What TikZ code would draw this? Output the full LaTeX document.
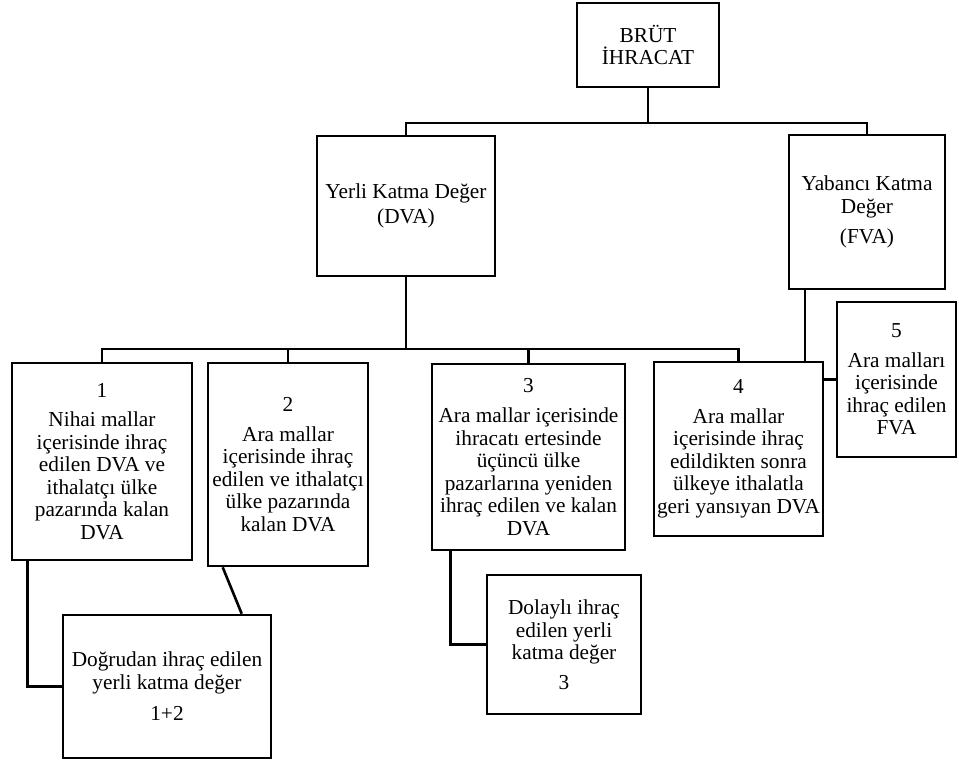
\documentclass[tikz,border=0pt]{standalone}
\usepackage{fontspec}
\setmainfont{Liberation Serif}
\usetikzlibrary{calc}
\begin{document}
\begin{tikzpicture}[x=1pt,y=-1pt,
  box/.style={draw=black, line width=2.6pt, inner sep=0pt, align=center,
    font=\fontsize{21.3}{22.5}\selectfont, fill=white},
  link/.style={draw=black, line width=2.6pt, line join=miter}]
\useasboundingbox (0,0) rectangle (959,764);
% boxes
\node[box, minimum width=142pt, minimum height=84pt] (brut) at (648,45) {BRÜT\\İHRACAT};
\node[box, minimum width=178pt, minimum height=140pt] (dva) at (406,206) {Yerli Katma Değer\\[2pt](DVA)};
\node[box, minimum width=156pt, minimum height=154pt] (fva) at (867,212) {Yabancı Katma\\Değer\\[8pt](FVA)};
\node[box, minimum width=180pt, minimum height=197pt] (b1) at (102,461.5) {1\\[7pt]Nihai mallar\\içerisinde ihraç\\edilen DVA ve\\ithalatçı ülke\\pazarında kalan\\DVA};
\node[box, minimum width=160pt, minimum height=203pt] (b2) at (288,464.5) {2\\[7pt]Ara mallar\\içerisinde ihraç\\edilen ve ithalatçı\\ülke pazarında\\kalan DVA};
\node[box, minimum width=193pt, minimum height=186pt] (b3) at (528.5,457) {3\\[8pt]Ara mallar içerisinde\\ihracatı ertesinde\\üçüncü ülke\\pazarlarına yeniden\\ihraç edilen ve kalan\\DVA};
\node[box, minimum width=169pt, minimum height=174pt] (b4) at (738.5,449) {4\\[7pt]Ara mallar\\içerisinde ihraç\\edildikten sonra\\ülkeye ithalatla\\geri yansıyan DVA};
\node[box, minimum width=119pt, minimum height=155pt] (b5) at (896.5,379.5) {5\\[7pt]Ara malları\\içerisinde\\ihraç edilen\\FVA};
\node[box, minimum width=208pt, minimum height=143pt] (b12) at (167,686.5) {Doğrudan ihraç edilen\\yerli katma değer\\[9pt]1+2};
\node[box, minimum width=154pt, minimum height=139pt] (b3d) at (564,644.5) {Dolaylı ihraç\\edilen yerli\\katma değer\\[7pt]3};
% junction coordinates
\coordinate (jtop) at (648,123);
\coordinate (jmid) at (406,349);
\coordinate (fvax) at (805,0);
% top level
\draw[link] (brut.south) -- (jtop);
\draw[link] (dva.north) |- (jtop) -| (fva.north);
% DVA branches
\draw[link] (dva.south) -- (jmid);
\draw[link] (b1.north) |- (jmid) -| (b4.north);
\draw[link] (b2.north) -- (b2.north |- jmid);
\draw[link] (b3.north) -- (b3.north |- jmid);
% FVA branch
\draw[link, line width=2pt] (fva.south -| fvax) -- (b4.north -| fvax);
\draw[link] (b5.west) -- (b5.west -| b4.east);
% lower links
\draw[link] ($(b1.south west)+(17,0)$) |- (b12.west);
\draw[link] ($(b2.south west)+(16,0)$) -- ($(b12.north west)+(180,0)$);
\draw[link] ($(b3.south west)+(20,0)$) |- (b3d.west);
\end{tikzpicture}
\end{document}
